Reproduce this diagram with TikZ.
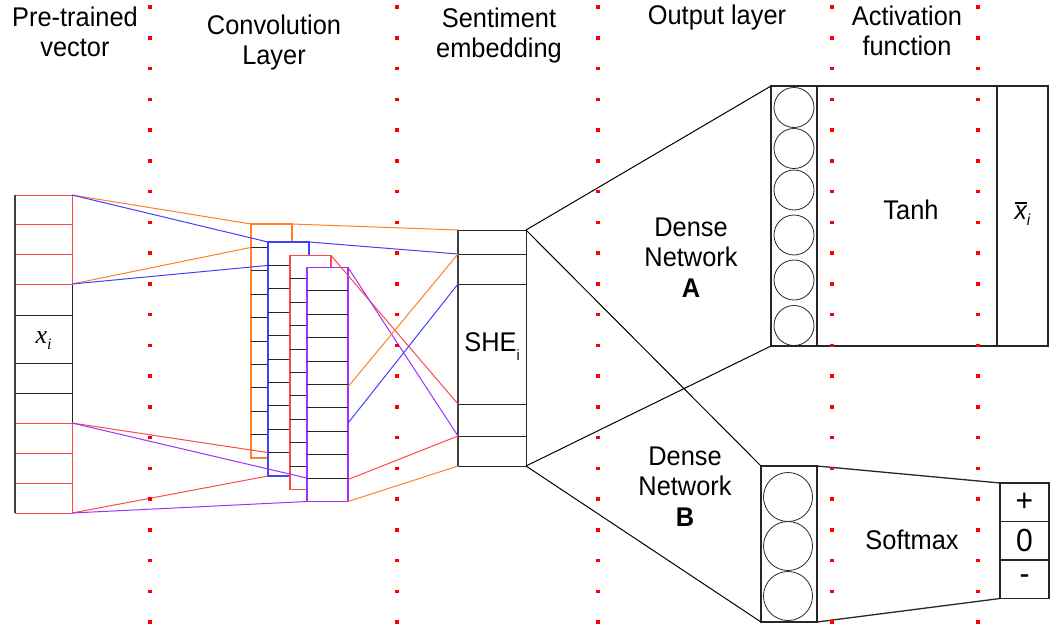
\documentclass[tikz,border=0pt]{standalone}
\usepackage{fontspec}
\setmainfont{Liberation Sans}[FakeStretch=0.94]
\newfontfamily\vecfont{Liberation Serif}
\usetikzlibrary{calc,positioning}
\definecolor{convorange}{RGB}{255,128,40}
\definecolor{convblue}{RGB}{64,64,255}
\definecolor{convred}{RGB}{255,72,72}
\definecolor{convpurple}{RGB}{160,48,255}

\begin{document}
\begin{tikzpicture}[x=1pt, y=-1pt, line width=1pt,
    every node/.style={font=\fontsize{27}{30.5}\selectfont, inner sep=0pt, outer sep=0pt},
    vcell/.style={draw=black!85, minimum width=57pt},
    fmap/.style={fill=white, line width=1.6pt, minimum width=41pt, minimum height=234pt},
    scell/.style={draw=black!85, minimum width=68pt},
    layerbox/.style={draw=black!85, line width=1.3pt},
    unit/.style={draw=black!85, circle, line width=0.8pt},
    sep/.style={red, line width=3.5pt, dash pattern=on 3.5pt off 27.25pt}]
\useasboundingbox (0,0) rectangle (1060,630);

\node[align=center] (hvec) at (75,32) {Pre-trained\\vector};
\node[align=center] (hconv) at (274,42.5) {Convolution\\Layer};
\node[align=center] (hsent) at (499,35.5) {Sentiment\\embedding};
\node (hout) at (717,18) {Output layer};
\node[align=center] (hact) at (907,30.7) {Activation\\function};

\foreach \n/\y/\h in {v4/299.5/31, vx/339/48, v5/378/30, v6/408/30}
  \node[vcell, minimum height=\h pt] (\n) at (43.5,\y) {};
\foreach \n/\y/\h in {v1/209.5/29, v2/239/30, v3/269/30, v7/438/30, v8/468/30, v9/498/30}
  \node[vcell, draw=convred, minimum height=\h pt] (\n) at (43.5,\y) {};
\draw[black!75, line width=1.6pt] (v1.north west) -- (v9.south west);
\node at ($(vx)+(0,2)$) {\vecfont\itshape\fontsize{26}{28}\selectfont x\raisebox{-6pt}{\fontsize{16}{16}\selectfont i}};

\foreach \m/\c/\x/\y in {co/convorange/271.5/341, cb/convblue/288.5/359, cr/convred/310.5/372.5, cp/convpurple/327.5/384.5} {
  \node[fmap, draw=\c] (\m) at (\x,\y) {};
  \foreach \k in {1,...,9}
    \draw[black!85] ($(\m.north west)!\k/10!(\m.south west)$) -- ($(\m.north east)!\k/10!(\m.south east)$);
}

\draw[convorange] (v1.north east) -- (co.north west);
\draw[convorange] (v3.south east) -- ($(co.north west)!0.1!(co.south west)$);
\draw[convblue] (v1.north east) -- (cb.north west);
\draw[convblue] (v3.south east) -- ($(cb.north west)!0.1!(cb.south west)$);
\draw[convred] (v7.north east) -- ($(cb.north west)!0.9!(cb.south west)$);
\draw[convred] (v9.south east) -- (cb.south west);
\draw[convpurple] (v7.north east) -- ($(cp.north west)!0.9!(cp.south west)$);
\draw[convpurple] (v9.south east) -- (cp.south west);

\foreach \n/\y/\h in {s1/242/24, s2/269/30, sx/344/120, s3/420/32, s4/451/30}
  \node[scell, minimum height=\h pt] (\n) at (492,\y) {};
\draw[black!75, line width=1.6pt] (s1.north west) -- (s4.south west);
\node at ($(sx)+(0,3)$) {SHE\raisebox{-9pt}{\fontsize{15}{15}\selectfont i}};

\draw[convorange] (co.north east) -- (s1.north west);
\draw[convblue] (cb.north east) -- (s2.north west);
\draw[convred] (cr.north east) -- (s3.north west);
\draw[convpurple] (cp.north east) -- (s4.north west);
\draw[convorange] ($(cp.north east)!0.51!(cp.south east)$) -- (s2.north west);
\draw[convblue] ($(cp.north east)!0.665!(cp.south east)$) -- (s2.south west);
\draw[convred] ($(cp.north east)!0.906!(cp.south east)$) -- (s4.north west);
\draw[convorange] (cp.south east) -- (s4.south west);

\node[layerbox, minimum width=46pt, minimum height=260pt] (oa) at (794,216) {};
\foreach \y [count=\i] in {107.5,148.5,190,235,280,325.5}
  \node[unit, minimum size=40pt] (a\i) at (794,\y) {};
\node[layerbox, minimum width=56pt, minimum height=156pt] (ob) at (789,544) {};
\foreach \y [count=\i] in {497,546,596}
  \node[unit, minimum size=49pt] (b\i) at (788,\y) {};

\draw (s1.north east) -- (oa.north west);
\draw (s1.north east) -- (ob.north west);
\draw (s4.south east) -- (oa.south west);
\draw (s4.south east) -- (ob.south west);
\node[align=center] (dna) at (691,257.7) {Dense\\Network\\\textbf{A}};
\node[align=center] (dnb) at (685,486.7) {Dense\\Network\\\textbf{B}};

\node[layerbox, minimum width=51pt, minimum height=260pt] (xa) at (1022.5,216) {};
\node at ($(xa)+(0,-2)$) {\itshape\fontsize{26}{28}\selectfont\vbox{\hrule height 1.6pt\kern 2.5pt\hbox{x}}\raisebox{-6pt}{\fontsize{16}{16}\selectfont i}};
\draw[layerbox] (oa.north east) -- (xa.north west);
\draw[layerbox] (oa.south east) -- (xa.south west);
\node (tanh) at (911,210) {Tanh};

\foreach \n/\y/\t in {p1/502.25/+, p2/540.75/0, p3/579.25/-}
  \node[layerbox, minimum width=49pt, minimum height=38.5pt, font=\fontsize{32}{34}\selectfont] (\n) at (1024.5,\y) {\t};
\draw[layerbox] (ob.north east) -- (p1.north west);
\draw[layerbox] (ob.south east) -- (p3.south west);
\node (smax) at (912,539.5) {Softmax};

\foreach \x in {150,397,598,832,978}
  \draw[sep] (\x,5.25) -- (\x,624);
\end{tikzpicture}
\end{document}
